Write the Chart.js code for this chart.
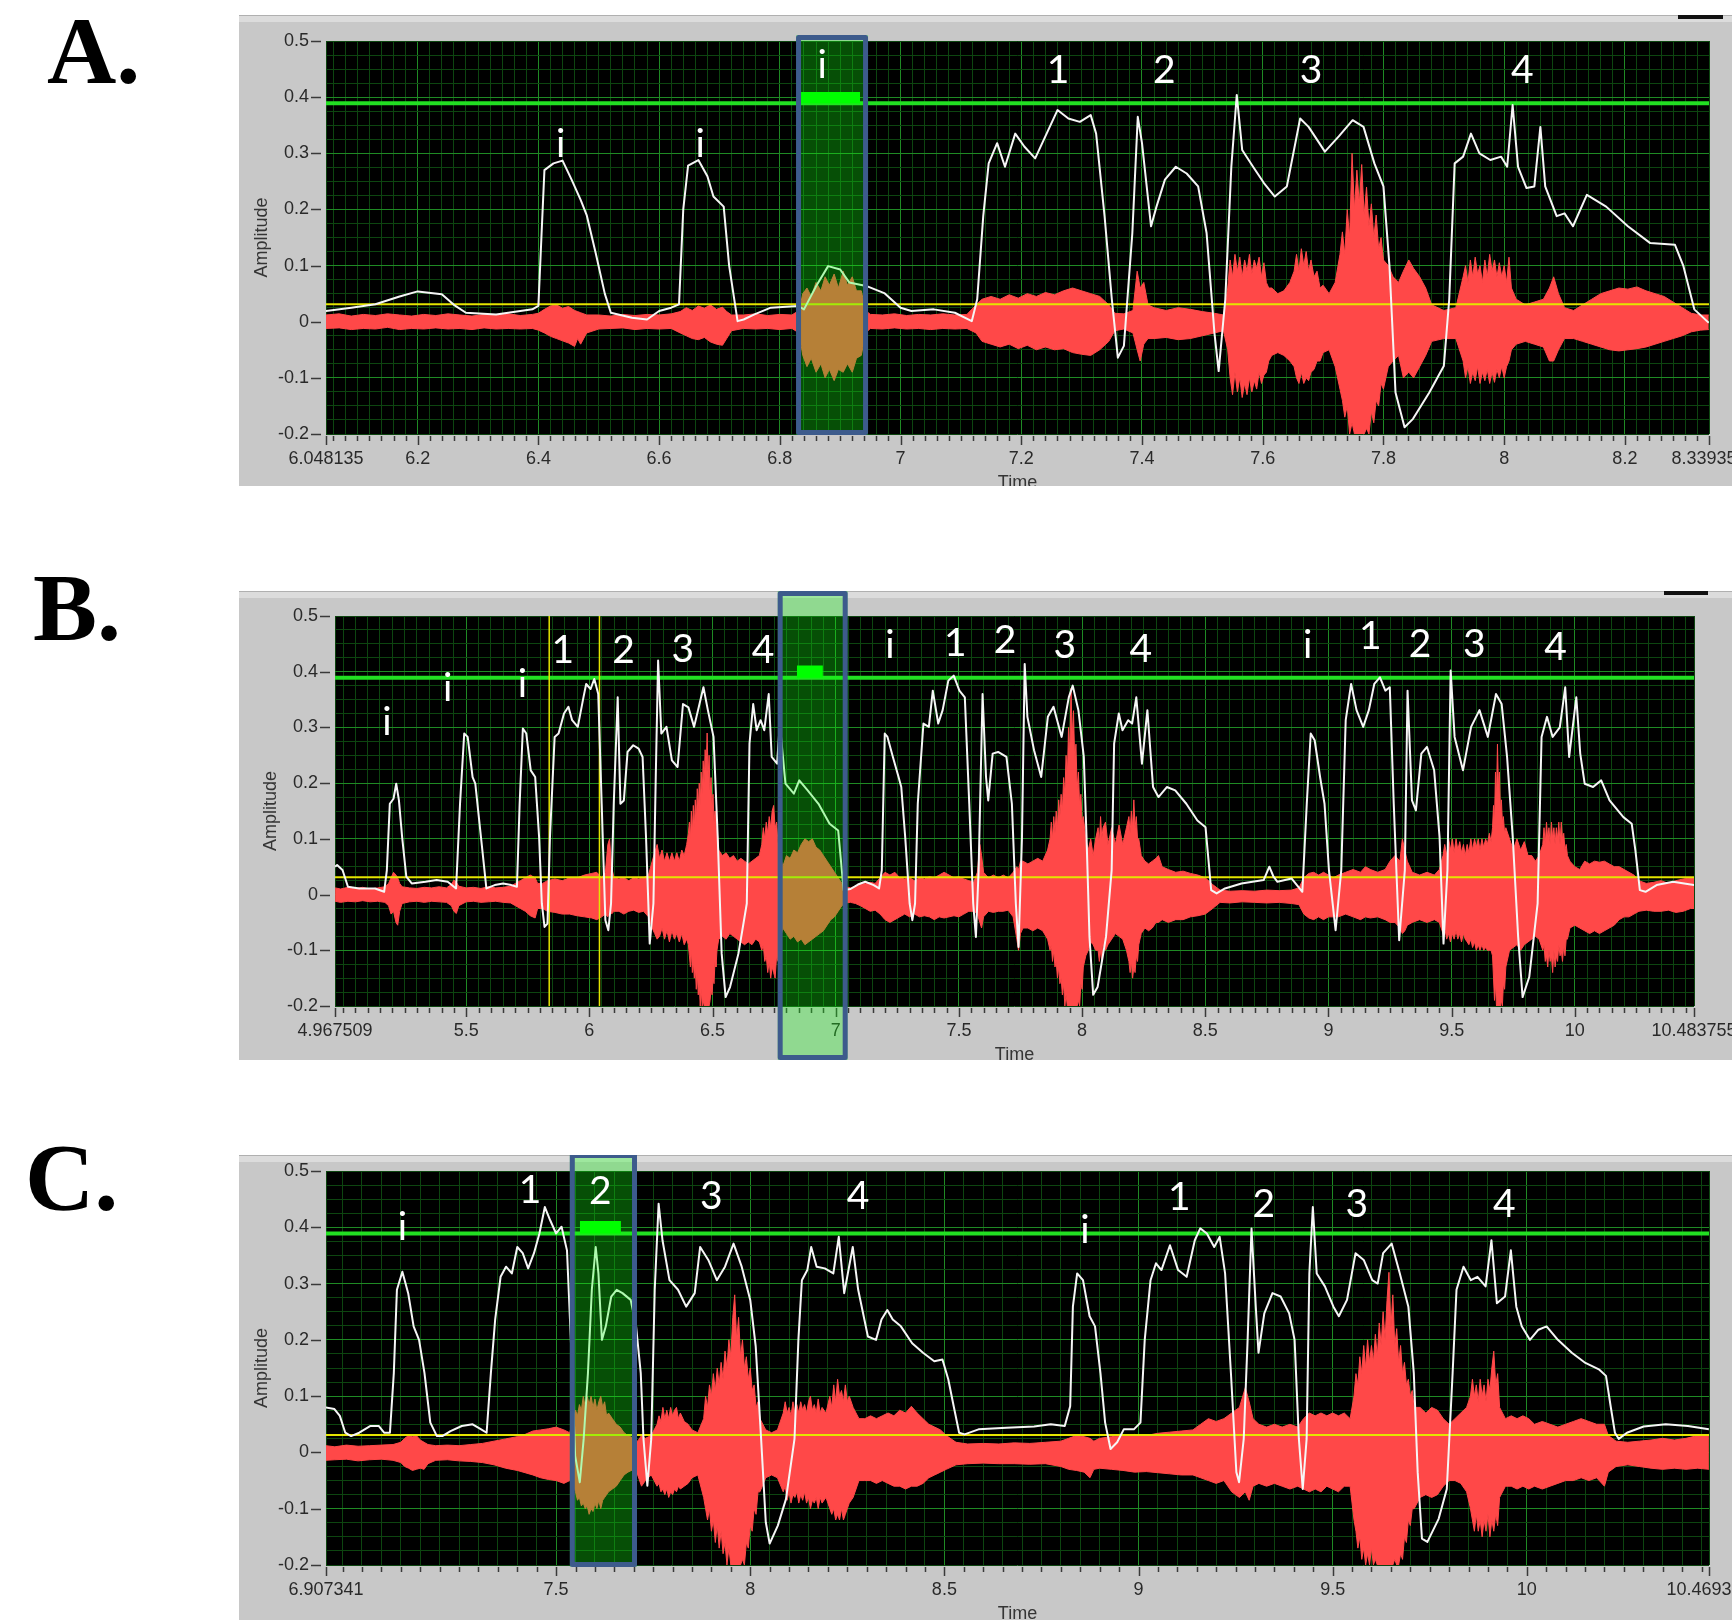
<!DOCTYPE html>
<html><head><meta charset="utf-8">
<script src="https://cdn.jsdelivr.net/npm/chart.js@4.4.1/dist/chart.umd.min.js"></script>
<style>
html,body{margin:0;padding:0;background:#fff;}
body{width:1732px;height:1620px;position:relative;overflow:hidden;}
.letter{position:absolute;font:bold 96px 'Liberation Serif','Times New Roman',serif;color:#000;line-height:96px;white-space:nowrap;}
.frame{position:absolute;background:#c8c8c8;overflow:hidden;}
.frame .strip{position:absolute;left:0;top:0;right:0;height:6px;background:#dcdcdc;border-top:1px solid #b0b0b0;}
.frame .knob{position:absolute;top:0;height:4px;background:#111;}
canvas{position:absolute;left:0;top:0;}
</style></head><body>
<div class="letter" style="left:47px;top:3px">A.</div>
<div class="letter" style="left:33px;top:560px">B.</div>
<div class="letter" style="left:25px;top:1130px">C.</div>
<div class="frame" style="left:239px;top:15px;width:1493px;height:471px"><div class="strip"></div><div class="knob" style="left:1439px;width:45px"></div><canvas id="ca" width="1493" height="471"></canvas></div>
<div class="frame" style="left:239px;top:591px;width:1493px;height:469px"><div class="strip"></div><div class="knob" style="left:1425px;width:44px"></div><canvas id="cb" width="1493" height="469"></canvas></div>
<div class="frame" style="left:239px;top:1155px;width:1493px;height:465px"><div class="strip"></div><canvas id="cc" width="1493" height="465"></canvas></div>
<script>
// ---------- shared ----------
const Y_TICKS = ['-0.2','-0.1','0','0.1','0.2','0.3','0.4','0.5'];
const THRESH_HIGH = 0.389;
const THRESH_LOW = 0.031;

// ---------- panel A ----------
const A_X_TICKS = ['6.048135','6.2','6.4','6.6','6.8','7','7.2','7.4','7.6','7.8','8','8.2','8.339353'];
const A_BOX = [6.831, 6.942];
const A_BUMP = [6.835, 6.933, 0.409];
const A_MARKS = [['i',6.437,0.294],['i',6.668,0.294],['i',6.870,0.434],['1',7.261,0.425],['2',7.437,0.425],['3',7.680,0.425],['4',8.030,0.425]];
const A_ENV = [[6.048,0.019],[6.09,0.025],[6.13,0.031],[6.17,0.045],[6.2,0.054],[6.24,0.049],[6.26,0.03],[6.28,0.016],[6.33,0.013],[6.37,0.019],[6.39,0.022],[6.4,0.028],[6.405,0.15],[6.41,0.27],[6.425,0.282],[6.44,0.287],[6.455,0.253],[6.47,0.217],[6.48,0.19],[6.495,0.122],[6.51,0.05],[6.52,0.016],[6.555,0.007],[6.58,0.004],[6.6,0.019],[6.62,0.025],[6.633,0.031],[6.64,0.2],[6.648,0.278],[6.665,0.288],[6.68,0.259],[6.69,0.223],[6.707,0.205],[6.716,0.1],[6.73,0.001],[6.74,0.004],[6.758,0.013],[6.785,0.025],[6.83,0.028],[6.84,0.022],[6.86,0.063],[6.88,0.099],[6.9,0.093],[6.915,0.07],[6.945,0.063],[6.973,0.051],[7.0,0.025],[7.018,0.019],[7.055,0.022],[7.09,0.016],[7.118,0.001],[7.127,0.04],[7.137,0.188],[7.146,0.282],[7.16,0.318],[7.173,0.276],[7.19,0.335],[7.205,0.312],[7.223,0.291],[7.242,0.335],[7.26,0.377],[7.278,0.362],[7.297,0.356],[7.315,0.368],[7.324,0.335],[7.338,0.188],[7.35,0.04],[7.36,-0.064],[7.37,-0.043],[7.384,0.158],[7.393,0.365],[7.4,0.318],[7.415,0.17],[7.424,0.205],[7.438,0.253],[7.456,0.276],[7.474,0.264],[7.493,0.241],[7.507,0.158],[7.52,-0.02],[7.527,-0.088],[7.538,0.04],[7.548,0.276],[7.557,0.404],[7.566,0.306],[7.584,0.276],[7.602,0.247],[7.62,0.223],[7.64,0.241],[7.662,0.362],[7.676,0.347],[7.703,0.303],[7.726,0.33],[7.749,0.359],[7.767,0.347],[7.785,0.282],[7.8,0.241],[7.81,0.099],[7.82,-0.126],[7.835,-0.188],[7.849,-0.173],[7.876,-0.126],[7.9,-0.079],[7.909,0.04],[7.918,0.282],[7.932,0.294],[7.945,0.335],[7.959,0.3],[7.977,0.288],[7.995,0.294],[8.005,0.276],[8.014,0.386],[8.023,0.276],[8.037,0.238],[8.05,0.241],[8.06,0.347],[8.068,0.241],[8.087,0.188],[8.1,0.193],[8.114,0.17],[8.137,0.226],[8.169,0.205],[8.205,0.17],[8.242,0.14],[8.283,0.137],[8.297,0.099],[8.315,0.022],[8.339,-0.002]];
const A_WAV = [[6.048,0.012,-0.012],[6.07,0.014,-0.011],[6.09,0.01,-0.014],[6.11,0.013,-0.012],[6.13,0.011,-0.013],[6.15,0.014,-0.01],[6.17,0.012,-0.014],[6.19,0.01,-0.012],[6.21,0.013,-0.013],[6.23,0.011,-0.011],[6.25,0.014,-0.013],[6.27,0.012,-0.012],[6.29,0.01,-0.014],[6.31,0.013,-0.011],[6.33,0.012,-0.013],[6.35,0.014,-0.012],[6.37,0.011,-0.013],[6.39,0.013,-0.012],
[6.40,0.015,-0.015],[6.41,0.022,-0.02],[6.42,0.028,-0.026],[6.43,0.03,-0.03],[6.44,0.024,-0.034],[6.45,0.027,-0.038],[6.46,0.02,-0.044],[6.465,0.018,-0.03],[6.47,0.016,-0.04],[6.48,0.012,-0.02],
[6.50,0.012,-0.013],[6.52,0.01,-0.012],[6.54,0.013,-0.011],[6.56,0.011,-0.014],[6.58,0.013,-0.012],[6.60,0.012,-0.013],[6.62,0.014,-0.012],
[6.635,0.018,-0.02],[6.645,0.025,-0.025],[6.655,0.02,-0.03],[6.665,0.028,-0.032],[6.675,0.024,-0.028],[6.685,0.03,-0.036],[6.695,0.022,-0.04],[6.705,0.026,-0.042],[6.712,0.018,-0.03],[6.72,0.012,-0.016],
[6.74,0.012,-0.012],[6.76,0.014,-0.013],[6.78,0.011,-0.012],[6.80,0.013,-0.014],[6.82,0.012,-0.012],
[6.832,0.02,-0.02],[6.838,0.05,-0.06],[6.845,0.06,-0.08],[6.852,0.045,-0.065],[6.86,0.07,-0.09],[6.868,0.055,-0.075],[6.875,0.08,-0.1],[6.882,0.065,-0.085],[6.89,0.085,-0.105],[6.897,0.06,-0.085],[6.905,0.09,-0.09],[6.912,0.065,-0.075],[6.92,0.08,-0.09],[6.927,0.055,-0.065],[6.935,0.055,-0.06],[6.942,0.02,-0.02],
[6.95,0.013,-0.012],[6.97,0.012,-0.013],[6.99,0.014,-0.011],[7.01,0.011,-0.013],[7.03,0.013,-0.012],[7.05,0.012,-0.014],[7.07,0.014,-0.012],[7.09,0.012,-0.013],[7.11,0.013,-0.012],
[7.125,0.03,-0.02],[7.135,0.04,-0.035],[7.15,0.045,-0.04],[7.165,0.04,-0.045],[7.18,0.048,-0.04],[7.195,0.042,-0.048],[7.21,0.05,-0.042],[7.225,0.045,-0.05],[7.24,0.052,-0.045],[7.255,0.048,-0.05],[7.27,0.055,-0.048],[7.285,0.06,-0.055],[7.3,0.055,-0.058],[7.315,0.05,-0.06],[7.33,0.045,-0.05],[7.345,0.03,-0.035],[7.355,0.015,-0.016],
[7.37,0.014,-0.013],[7.385,0.02,-0.02],[7.392,0.09,-0.05],[7.397,0.06,-0.07],[7.403,0.07,-0.04],[7.41,0.03,-0.03],[7.42,0.025,-0.03],[7.44,0.02,-0.028],[7.46,0.025,-0.032],[7.48,0.022,-0.03],[7.5,0.018,-0.025],[7.52,0.015,-0.02],[7.535,0.012,-0.016],
[7.542,0.06,-0.05],[7.546,0.11,-0.1],[7.55,0.08,-0.13],[7.554,0.12,-0.09],[7.558,0.09,-0.125],[7.562,0.115,-0.1],[7.566,0.08,-0.135],[7.57,0.11,-0.11],[7.574,0.09,-0.13],[7.578,0.12,-0.1],[7.582,0.085,-0.125],[7.586,0.11,-0.105],[7.59,0.095,-0.12],[7.594,0.115,-0.09],[7.598,0.08,-0.11],[7.602,0.105,-0.095],[7.606,0.07,-0.09],[7.61,0.06,-0.07],
[7.615,0.06,-0.06],[7.625,0.05,-0.055],[7.635,0.055,-0.06],[7.645,0.07,-0.07],
[7.652,0.09,-0.08],[7.656,0.12,-0.1],[7.66,0.09,-0.11],[7.664,0.13,-0.09],[7.668,0.1,-0.11],[7.672,0.125,-0.1],[7.676,0.09,-0.105],[7.68,0.11,-0.09],[7.685,0.08,-0.085],[7.69,0.09,-0.07],[7.695,0.06,-0.07],[7.7,0.065,-0.055],
[7.71,0.05,-0.05],[7.72,0.07,-0.08],
[7.728,0.12,-0.12],[7.732,0.16,-0.14],[7.736,0.12,-0.17],[7.74,0.2,-0.15],[7.744,0.15,-0.2],[7.748,0.3,-0.18],[7.752,0.2,-0.2],[7.756,0.27,-0.2],[7.76,0.21,-0.2],[7.764,0.28,-0.2],[7.768,0.19,-0.2],[7.772,0.24,-0.19],[7.776,0.17,-0.2],[7.78,0.21,-0.16],[7.784,0.15,-0.18],[7.788,0.19,-0.14],[7.792,0.13,-0.15],[7.796,0.15,-0.11],[7.8,0.11,-0.12],
[7.808,0.1,-0.08],[7.816,0.08,-0.07],[7.825,0.07,-0.06],[7.833,0.09,-0.1],[7.842,0.11,-0.09],[7.85,0.095,-0.1],[7.86,0.08,-0.08],[7.87,0.06,-0.06],[7.88,0.03,-0.035],[7.9,0.02,-0.03],[7.92,0.025,-0.03],
[7.932,0.08,-0.07],[7.936,0.1,-0.1],[7.94,0.07,-0.08],[7.944,0.11,-0.11],[7.948,0.08,-0.09],[7.952,0.115,-0.105],[7.956,0.085,-0.08],[7.96,0.1,-0.11],[7.964,0.07,-0.09],[7.968,0.11,-0.105],[7.972,0.08,-0.085],[7.976,0.12,-0.11],[7.98,0.09,-0.09],[7.984,0.11,-0.108],[7.988,0.08,-0.085],[7.992,0.105,-0.1],[7.996,0.08,-0.08],[8.0,0.1,-0.1],[8.004,0.07,-0.08],[8.008,0.115,-0.07],[8.012,0.06,-0.05],[8.02,0.04,-0.04],
[8.035,0.03,-0.035],[8.05,0.035,-0.04],[8.065,0.04,-0.045],[8.075,0.06,-0.07],[8.082,0.08,-0.07],[8.09,0.05,-0.05],[8.1,0.025,-0.03],[8.115,0.02,-0.03],[8.13,0.03,-0.035],
[8.145,0.04,-0.04],[8.16,0.05,-0.045],[8.175,0.055,-0.05],[8.19,0.06,-0.052],[8.205,0.058,-0.05],[8.22,0.062,-0.048],[8.235,0.055,-0.045],[8.25,0.05,-0.04],[8.265,0.045,-0.035],[8.28,0.035,-0.03],[8.295,0.025,-0.025],[8.31,0.015,-0.018],[8.325,0.012,-0.015],[8.339,0.012,-0.014]];

// ---------- panel B ----------
const B_X_TICKS = ['4.967509','5.5','6','6.5','7','7.5','8','8.5','9','9.5','10','10.483755'];
const B_BOX = [6.7745, 7.0384];
const B_BUMP = [6.842, 6.948, 0.411];
const B_CURSORS = [5.837, 6.041];
const B_MARKS = [['i',5.178,0.286],['i',5.425,0.348],['i',5.728,0.354],['1',5.892,0.416],['2',6.139,0.416],['3',6.379,0.418],['4',6.705,0.415],['i',7.220,0.424],['1',7.485,0.428],['2',7.687,0.433],['3',7.930,0.424],['4',8.238,0.418],['i',8.916,0.424],['1',9.170,0.440],['2',9.372,0.427],['3',9.592,0.426],['4',9.922,0.421]];
const B_ENV = [[4.968,0.05],[4.976,0.053],[4.998,0.044],[5.02,0.014],[5.066,0.011],[5.13,0.011],[5.167,0.005],[5.178,0.044],[5.19,0.163],[5.205,0.172],[5.216,0.199],[5.227,0.169],[5.24,0.103],[5.257,0.032],[5.279,0.02],[5.335,0.023],[5.38,0.026],[5.425,0.023],[5.459,0.011],[5.475,0.163],[5.492,0.289],[5.506,0.283],[5.526,0.211],[5.537,0.199],[5.56,0.103],[5.582,0.011],[5.616,0.017],[5.65,0.02],[5.683,0.017],[5.706,0.014],[5.717,0.163],[5.73,0.298],[5.744,0.289],[5.762,0.223],[5.78,0.211],[5.796,0.103],[5.807,-0.016],[5.818,-0.058],[5.83,-0.052],[5.84,0.103],[5.859,0.283],[5.875,0.289],[5.897,0.325],[5.915,0.337],[5.93,0.313],[5.953,0.301],[5.976,0.354],[5.987,0.378],[6.005,0.369],[6.02,0.387],[6.036,0.36],[6.05,0.163],[6.065,-0.046],[6.077,-0.064],[6.088,-0.016],[6.099,0.163],[6.115,0.354],[6.126,0.163],[6.14,0.169],[6.155,0.256],[6.178,0.268],[6.2,0.262],[6.216,0.247],[6.23,0.103],[6.245,-0.088],[6.26,-0.016],[6.27,0.223],[6.279,0.42],[6.292,0.289],[6.313,0.301],[6.335,0.241],[6.358,0.229],[6.38,0.342],[6.402,0.336],[6.425,0.301],[6.447,0.342],[6.463,0.372],[6.481,0.331],[6.504,0.283],[6.521,0.103],[6.537,-0.106],[6.553,-0.184],[6.571,-0.166],[6.605,-0.106],[6.639,-0.016],[6.65,0.271],[6.665,0.342],[6.679,0.295],[6.695,0.313],[6.71,0.295],[6.728,0.36],[6.74,0.247],[6.762,0.235],[6.773,0.307],[6.796,0.199],[6.83,0.181],[6.852,0.205],[6.886,0.187],[6.93,0.163],[6.975,0.127],[7.01,0.115],[7.032,0.008],[7.06,0.01],[7.09,0.018],[7.12,0.023],[7.154,0.017],[7.176,0.011],[7.187,0.044],[7.199,0.289],[7.21,0.283],[7.232,0.247],[7.255,0.211],[7.266,0.193],[7.282,0.103],[7.3,-0.016],[7.311,-0.046],[7.322,-0.016],[7.333,0.163],[7.356,0.307],[7.378,0.301],[7.394,0.366],[7.416,0.307],[7.434,0.331],[7.457,0.384],[7.479,0.393],[7.502,0.366],[7.524,0.354],[7.542,0.163],[7.558,-0.016],[7.569,-0.076],[7.58,0.044],[7.596,0.36],[7.61,0.211],[7.619,0.169],[7.637,0.253],[7.659,0.256],[7.693,0.247],[7.715,0.163],[7.731,-0.016],[7.742,-0.094],[7.756,0.103],[7.767,0.414],[7.778,0.319],[7.805,0.259],[7.834,0.211],[7.861,0.319],[7.884,0.337],[7.917,0.283],[7.946,0.354],[7.962,0.375],[7.985,0.331],[8.007,0.247],[8.018,0.103],[8.03,-0.076],[8.045,-0.18],[8.063,-0.166],[8.097,-0.076],[8.12,0.044],[8.13,0.271],[8.149,0.325],[8.164,0.295],[8.187,0.313],[8.203,0.307],[8.22,0.354],[8.243,0.235],[8.265,0.331],[8.288,0.193],[8.31,0.175],[8.344,0.193],[8.378,0.187],[8.423,0.163],[8.468,0.133],[8.501,0.121],[8.524,0.008],[8.546,0.002],[8.58,0.011],[8.647,0.02],[8.737,0.026],[8.76,0.05],[8.777,0.032],[8.793,0.023],[8.85,0.029],[8.894,0.005],[8.912,0.163],[8.928,0.289],[8.944,0.277],[8.966,0.211],[8.984,0.163],[9.002,0.044],[9.029,-0.064],[9.052,0.044],[9.07,0.313],[9.092,0.378],[9.114,0.331],[9.141,0.301],[9.164,0.331],[9.186,0.378],[9.209,0.39],[9.231,0.366],[9.249,0.372],[9.265,0.163],[9.287,-0.082],[9.31,0.044],[9.321,0.366],[9.339,0.169],[9.355,0.151],[9.377,0.253],[9.4,0.265],[9.429,0.223],[9.451,0.103],[9.467,-0.088],[9.483,0.044],[9.496,0.402],[9.512,0.283],[9.546,0.223],[9.579,0.301],[9.613,0.331],[9.647,0.283],[9.68,0.36],[9.703,0.342],[9.725,0.247],[9.748,0.103],[9.77,-0.076],[9.788,-0.184],[9.815,-0.148],[9.849,-0.016],[9.865,0.283],[9.887,0.319],[9.91,0.283],[9.939,0.3],[9.961,0.372],[9.977,0.247],[10.006,0.354],[10.022,0.253],[10.04,0.199],[10.074,0.193],[10.107,0.205],[10.141,0.169],[10.197,0.139],[10.231,0.127],[10.246,0.079],[10.264,0.008],[10.287,0.005],[10.332,0.017],[10.399,0.023],[10.444,0.02],[10.484,0.017]];
const B_WAV = [[4.968,0.012,-0.012],[4.99,0.01,-0.014],[5.02,0.013,-0.012],[5.05,0.011,-0.013],[5.08,0.013,-0.011],[5.11,0.01,-0.013],[5.14,0.012,-0.012],[5.17,0.014,-0.014],
[5.185,0.02,-0.02],[5.195,0.03,-0.035],[5.205,0.04,-0.03],[5.215,0.035,-0.05],[5.222,0.03,-0.055],[5.23,0.02,-0.03],[5.24,0.014,-0.016],
[5.27,0.012,-0.013],[5.3,0.011,-0.012],[5.33,0.013,-0.014],[5.36,0.012,-0.012],[5.39,0.014,-0.013],[5.42,0.012,-0.014],
[5.44,0.018,-0.02],[5.45,0.026,-0.03],[5.46,0.022,-0.034],[5.47,0.015,-0.02],
[5.5,0.012,-0.013],[5.53,0.013,-0.012],[5.56,0.011,-0.014],[5.59,0.014,-0.013],[5.62,0.012,-0.012],[5.65,0.013,-0.014],[5.68,0.015,-0.015],
[5.7,0.02,-0.02],[5.72,0.025,-0.025],[5.74,0.03,-0.03],[5.76,0.035,-0.038],[5.78,0.03,-0.042],[5.79,0.02,-0.025],
[5.81,0.02,-0.025],[5.83,0.025,-0.03],[5.86,0.028,-0.032],[5.89,0.025,-0.035],[5.92,0.03,-0.035],[5.95,0.03,-0.038],[5.98,0.035,-0.04],[6.01,0.038,-0.042],[6.03,0.04,-0.045],[6.05,0.03,-0.04],
[6.065,0.04,-0.035],[6.075,0.09,-0.04],[6.082,0.1,-0.03],[6.09,0.05,-0.035],
[6.1,0.03,-0.03],[6.12,0.028,-0.03],[6.14,0.03,-0.035],[6.16,0.025,-0.03],[6.18,0.03,-0.028],[6.2,0.028,-0.032],[6.22,0.03,-0.03],[6.24,0.035,-0.04],
[6.255,0.06,-0.06],[6.265,0.075,-0.07],[6.275,0.09,-0.08],[6.285,0.065,-0.075],[6.295,0.08,-0.06],[6.305,0.06,-0.08],[6.315,0.075,-0.065],[6.325,0.06,-0.085],[6.335,0.075,-0.065],[6.345,0.06,-0.08],[6.355,0.075,-0.07],[6.365,0.06,-0.085],[6.375,0.08,-0.07],[6.385,0.07,-0.09],[6.395,0.09,-0.08],
[6.402,0.11,-0.09],[6.406,0.13,-0.11],[6.41,0.1,-0.13],[6.414,0.15,-0.1],[6.418,0.11,-0.14],[6.422,0.16,-0.12],[6.426,0.12,-0.15],[6.43,0.17,-0.13],[6.434,0.13,-0.17],[6.438,0.19,-0.14],[6.442,0.15,-0.18],[6.446,0.2,-0.16],[6.45,0.16,-0.2],[6.454,0.22,-0.17],[6.458,0.18,-0.2],[6.462,0.24,-0.19],[6.466,0.2,-0.2],[6.47,0.26,-0.2],[6.474,0.22,-0.2],[6.478,0.29,-0.2],[6.482,0.21,-0.2],[6.486,0.25,-0.2],[6.49,0.18,-0.19],[6.494,0.21,-0.17],[6.498,0.16,-0.18],[6.502,0.18,-0.15],[6.506,0.13,-0.16],[6.51,0.15,-0.12],[6.514,0.11,-0.13],[6.518,0.12,-0.1],
[6.525,0.08,-0.08],[6.54,0.07,-0.075],[6.555,0.075,-0.08],[6.57,0.065,-0.07],[6.585,0.07,-0.075],[6.6,0.06,-0.08],[6.615,0.065,-0.085],[6.63,0.06,-0.09],[6.645,0.055,-0.085],[6.66,0.06,-0.09],[6.675,0.065,-0.08],[6.69,0.07,-0.085],
[6.7,0.09,-0.1],[6.706,0.12,-0.09],[6.712,0.1,-0.12],[6.718,0.13,-0.11],[6.724,0.11,-0.14],[6.73,0.14,-0.12],[6.736,0.12,-0.15],[6.742,0.15,-0.13],[6.748,0.16,-0.14],[6.754,0.12,-0.15],[6.76,0.13,-0.11],[6.766,0.09,-0.12],[6.775,0.07,-0.08],
[6.785,0.05,-0.06],[6.8,0.07,-0.07],[6.815,0.065,-0.08],[6.83,0.08,-0.075],[6.845,0.075,-0.085],[6.86,0.09,-0.08],[6.875,0.1,-0.09],[6.89,0.095,-0.085],[6.905,0.1,-0.08],[6.92,0.085,-0.075],[6.935,0.08,-0.07],[6.95,0.07,-0.065],[6.965,0.06,-0.055],[6.98,0.05,-0.045],[6.995,0.04,-0.04],[7.01,0.03,-0.03],[7.025,0.02,-0.02],[7.04,0.014,-0.015],
[7.06,0.012,-0.014],[7.08,0.015,-0.016],[7.1,0.018,-0.02],[7.12,0.02,-0.025],[7.14,0.022,-0.03],[7.16,0.02,-0.028],[7.18,0.03,-0.035],[7.2,0.04,-0.045],[7.22,0.035,-0.05],[7.24,0.04,-0.045],[7.26,0.03,-0.04],[7.28,0.028,-0.035],[7.3,0.03,-0.04],[7.32,0.025,-0.035],[7.34,0.03,-0.04],[7.36,0.028,-0.038],[7.38,0.032,-0.04],[7.4,0.03,-0.045],[7.42,0.035,-0.04],[7.44,0.04,-0.042],[7.46,0.035,-0.04],[7.48,0.03,-0.038],[7.5,0.032,-0.04],[7.52,0.028,-0.035],[7.54,0.025,-0.03],[7.56,0.022,-0.03],
[7.575,0.04,-0.035],[7.585,0.09,-0.05],[7.592,0.07,-0.06],[7.6,0.04,-0.04],
[7.62,0.03,-0.03],[7.64,0.035,-0.032],[7.66,0.03,-0.03],[7.68,0.035,-0.03],[7.7,0.03,-0.028],[7.72,0.04,-0.04],
[7.735,0.05,-0.08],[7.742,0.045,-0.1],[7.75,0.06,-0.07],[7.76,0.06,-0.06],[7.78,0.055,-0.06],[7.8,0.06,-0.065],[7.82,0.065,-0.06],[7.84,0.06,-0.065],[7.86,0.08,-0.08],
[7.87,0.1,-0.1],[7.875,0.13,-0.09],[7.88,0.1,-0.12],[7.885,0.14,-0.1],[7.89,0.11,-0.13],[7.895,0.15,-0.12],[7.9,0.12,-0.15],[7.905,0.17,-0.13],[7.91,0.14,-0.16],[7.915,0.18,-0.15],[7.92,0.15,-0.18],[7.925,0.21,-0.16],[7.93,0.18,-0.2],[7.935,0.25,-0.18],[7.94,0.21,-0.2],[7.945,0.3,-0.2],[7.95,0.25,-0.2],[7.955,0.37,-0.2],[7.96,0.28,-0.2],[7.965,0.33,-0.2],[7.97,0.24,-0.2],[7.975,0.27,-0.2],[7.98,0.19,-0.2],[7.985,0.22,-0.19],[7.99,0.16,-0.2],[7.995,0.18,-0.16],[8.0,0.13,-0.17],[8.005,0.14,-0.13],
[8.015,0.1,-0.11],[8.025,0.08,-0.1],[8.035,0.1,-0.085],[8.045,0.07,-0.09],[8.055,0.1,-0.1],
[8.065,0.12,-0.1],[8.07,0.09,-0.12],[8.075,0.14,-0.1],[8.08,0.1,-0.12],[8.085,0.12,-0.09],[8.095,0.13,-0.1],[8.105,0.09,-0.09],
[8.12,0.12,-0.08],[8.135,0.09,-0.07],[8.15,0.125,-0.075],[8.165,0.09,-0.08],[8.18,0.12,-0.1],
[8.19,0.14,-0.12],[8.195,0.11,-0.14],[8.2,0.15,-0.12],[8.205,0.12,-0.15],[8.21,0.17,-0.13],[8.215,0.12,-0.14],[8.22,0.14,-0.11],[8.225,0.1,-0.12],[8.23,0.1,-0.09],[8.24,0.07,-0.07],
[8.255,0.06,-0.06],[8.27,0.055,-0.065],[8.285,0.06,-0.06],[8.3,0.065,-0.05],[8.31,0.07,-0.05],[8.325,0.05,-0.045],
[8.35,0.045,-0.05],[8.38,0.04,-0.045],[8.41,0.042,-0.045],[8.44,0.038,-0.04],[8.47,0.035,-0.038],[8.5,0.03,-0.035],[8.53,0.018,-0.025],
[8.56,0.008,-0.014],[8.6,0.006,-0.015],[8.65,0.007,-0.013],[8.7,0.006,-0.014],[8.75,0.008,-0.015],[8.8,0.007,-0.014],[8.85,0.008,-0.016],[8.88,0.012,-0.018],
[8.9,0.03,-0.035],[8.92,0.038,-0.042],[8.94,0.04,-0.045],[8.96,0.035,-0.04],[8.98,0.04,-0.045],[9.0,0.035,-0.04],[9.02,0.03,-0.04],
[9.04,0.035,-0.04],[9.07,0.04,-0.035],[9.1,0.045,-0.04],[9.13,0.04,-0.045],[9.15,0.05,-0.04],[9.17,0.045,-0.042],[9.2,0.04,-0.04],[9.23,0.045,-0.045],
[9.25,0.06,-0.05],[9.27,0.07,-0.05],[9.29,0.06,-0.06],[9.3,0.1,-0.07],[9.31,0.08,-0.065],[9.32,0.06,-0.055],[9.34,0.04,-0.05],[9.37,0.035,-0.045],[9.4,0.04,-0.05],[9.43,0.035,-0.045],[9.45,0.045,-0.05],
[9.465,0.07,-0.07],[9.472,0.09,-0.06],[9.48,0.07,-0.08],[9.488,0.1,-0.07],[9.495,0.08,-0.085],[9.503,0.1,-0.07],[9.51,0.075,-0.08],[9.518,0.1,-0.065],[9.525,0.08,-0.08],[9.533,0.095,-0.07],[9.54,0.075,-0.085],[9.548,0.09,-0.07],[9.555,0.07,-0.08],[9.563,0.09,-0.085],[9.57,0.075,-0.09],[9.578,0.1,-0.08],[9.585,0.08,-0.095],[9.593,0.1,-0.085],[9.6,0.085,-0.1],[9.608,0.1,-0.09],[9.615,0.08,-0.1],[9.623,0.1,-0.09],[9.63,0.085,-0.1],[9.638,0.1,-0.095],[9.645,0.09,-0.1],[9.653,0.11,-0.1],[9.66,0.095,-0.1],
[9.666,0.12,-0.11],[9.67,0.16,-0.15],[9.674,0.13,-0.19],[9.678,0.22,-0.16],[9.682,0.17,-0.2],[9.686,0.27,-0.2],[9.69,0.19,-0.2],[9.694,0.22,-0.2],[9.698,0.15,-0.2],[9.702,0.17,-0.19],[9.706,0.13,-0.2],[9.71,0.14,-0.16],[9.715,0.11,-0.17],[9.72,0.12,-0.13],
[9.735,0.1,-0.1],[9.75,0.08,-0.095],[9.765,0.1,-0.09],[9.78,0.08,-0.1],[9.795,0.095,-0.09],[9.81,0.07,-0.085],
[9.825,0.07,-0.08],[9.84,0.06,-0.075],[9.855,0.07,-0.08],
[9.87,0.09,-0.1],[9.875,0.12,-0.09],[9.88,0.09,-0.12],[9.885,0.13,-0.11],[9.89,0.1,-0.13],[9.895,0.12,-0.1],[9.9,0.09,-0.12],[9.905,0.13,-0.11],[9.91,0.1,-0.14],[9.915,0.12,-0.1],[9.92,0.09,-0.13],[9.925,0.12,-0.11],[9.93,0.1,-0.12],[9.935,0.13,-0.09],[9.94,0.09,-0.11],[9.945,0.13,-0.1],[9.95,0.1,-0.12],[9.955,0.11,-0.09],[9.96,0.08,-0.11],[9.965,0.09,-0.08],[9.97,0.07,-0.08],[9.98,0.06,-0.06],
[10.0,0.05,-0.055],[10.02,0.045,-0.06],[10.04,0.06,-0.065],[10.06,0.055,-0.07],[10.08,0.06,-0.065],[10.1,0.058,-0.07],[10.12,0.06,-0.065],[10.14,0.055,-0.06],[10.16,0.05,-0.055],[10.18,0.05,-0.045],[10.2,0.045,-0.04],[10.22,0.04,-0.04],[10.24,0.035,-0.035],[10.26,0.025,-0.03],
[10.29,0.02,-0.028],[10.32,0.022,-0.03],[10.35,0.025,-0.03],[10.38,0.02,-0.028],[10.41,0.025,-0.032],[10.44,0.028,-0.03],[10.47,0.03,-0.025],[10.484,0.03,-0.025]];

// ---------- panel C ----------
const C_X_TICKS = ['6.907341','7.5','8','8.5','9','9.5','10','10.469315'];
const C_BOX = [7.5417, 7.7019];
const C_BUMP = [7.561, 7.667, 0.411];
const C_MARKS = [['i',7.104,0.377],['1',7.433,0.443],['2',7.614,0.441],['3',7.900,0.432],['4',8.278,0.432],['i',8.862,0.372],['1',9.105,0.431],['2',9.323,0.418],['3',9.562,0.418],['4',9.942,0.418]];
const C_ENV = [[6.907,0.08],[6.929,0.077],[6.943,0.065],[6.957,0.035],[6.972,0.029],[6.993,0.035],[7.022,0.047],[7.043,0.047],[7.057,0.035],[7.072,0.035],[7.082,0.141],[7.09,0.289],[7.104,0.321],[7.119,0.283],[7.133,0.224],[7.147,0.2],[7.161,0.141],[7.176,0.053],[7.193,0.029],[7.207,0.029],[7.228,0.038],[7.257,0.047],[7.285,0.05],[7.307,0.041],[7.321,0.035],[7.332,0.141],[7.343,0.236],[7.357,0.312],[7.371,0.33],[7.386,0.318],[7.4,0.365],[7.414,0.354],[7.428,0.327],[7.443,0.354],[7.457,0.389],[7.471,0.436],[7.485,0.412],[7.5,0.389],[7.514,0.401],[7.528,0.359],[7.538,0.2],[7.549,-0.006],[7.561,-0.053],[7.571,0.024],[7.582,0.141],[7.592,0.289],[7.602,0.365],[7.609,0.318],[7.618,0.2],[7.628,0.224],[7.642,0.277],[7.656,0.289],[7.671,0.283],[7.692,0.271],[7.706,0.224],[7.718,0.141],[7.725,0.024],[7.735,-0.059],[7.745,0.024],[7.754,0.289],[7.764,0.442],[7.774,0.377],[7.792,0.306],[7.814,0.289],[7.835,0.259],[7.857,0.283],[7.871,0.365],[7.892,0.342],[7.914,0.306],[7.935,0.33],[7.957,0.371],[7.978,0.33],[8.0,0.271],[8.014,0.189],[8.028,0.024],[8.04,-0.124],[8.05,-0.162],[8.071,-0.13],[8.092,-0.083],[8.114,0.024],[8.124,0.2],[8.133,0.306],[8.147,0.324],[8.157,0.365],[8.171,0.33],[8.192,0.327],[8.214,0.318],[8.228,0.383],[8.242,0.283],[8.264,0.365],[8.278,0.289],[8.303,0.206],[8.324,0.2],[8.338,0.236],[8.353,0.253],[8.367,0.236],[8.388,0.224],[8.417,0.194],[8.445,0.177],[8.474,0.162],[8.495,0.165],[8.51,0.13],[8.524,0.082],[8.538,0.035],[8.552,0.032],[8.588,0.041],[8.66,0.044],[8.731,0.046],[8.774,0.05],[8.81,0.047],[8.824,0.082],[8.831,0.259],[8.842,0.318],[8.857,0.306],[8.874,0.242],[8.888,0.224],[8.902,0.141],[8.914,0.053],[8.928,0.006],[8.945,0.018],[8.962,0.041],[8.988,0.041],[9.005,0.053],[9.016,0.2],[9.031,0.306],[9.045,0.336],[9.059,0.324],[9.081,0.368],[9.102,0.324],[9.124,0.312],[9.145,0.377],[9.159,0.398],[9.176,0.389],[9.195,0.365],[9.209,0.383],[9.223,0.318],[9.238,0.141],[9.252,-0.035],[9.259,-0.053],[9.271,0.024],[9.281,0.2],[9.291,0.398],[9.302,0.259],[9.309,0.177],[9.324,0.247],[9.345,0.283],[9.366,0.277],[9.388,0.247],[9.402,0.2],[9.413,0.024],[9.423,-0.065],[9.433,0.024],[9.44,0.318],[9.449,0.436],[9.459,0.318],[9.48,0.295],[9.502,0.259],[9.516,0.242],[9.537,0.271],[9.559,0.354],[9.58,0.342],[9.602,0.306],[9.616,0.3],[9.63,0.354],[9.652,0.371],[9.673,0.318],[9.695,0.259],[9.709,0.141],[9.719,-0.035],[9.73,-0.153],[9.744,-0.159],[9.773,-0.118],[9.794,-0.065],[9.809,0.141],[9.819,0.289],[9.837,0.33],[9.856,0.306],[9.873,0.312],[9.894,0.295],[9.909,0.377],[9.923,0.265],[9.944,0.277],[9.959,0.359],[9.973,0.259],[9.987,0.224],[10.008,0.2],[10.03,0.218],[10.051,0.224],[10.08,0.2],[10.116,0.177],[10.151,0.159],[10.187,0.147],[10.204,0.136],[10.216,0.082],[10.227,0.035],[10.237,0.024],[10.258,0.035],[10.301,0.046],[10.358,0.05],[10.415,0.047],[10.469,0.041]];
const C_WAV = [[6.907,0.012,-0.014],[6.93,0.01,-0.013],[6.96,0.013,-0.012],[6.99,0.011,-0.015],[7.02,0.012,-0.013],[7.05,0.013,-0.012],[7.08,0.014,-0.014],
[7.1,0.018,-0.018],[7.11,0.025,-0.025],[7.12,0.03,-0.028],[7.13,0.028,-0.032],[7.14,0.03,-0.03],[7.15,0.022,-0.028],[7.16,0.018,-0.03],[7.17,0.014,-0.02],
[7.19,0.012,-0.014],[7.22,0.013,-0.013],[7.25,0.012,-0.015],[7.28,0.014,-0.016],[7.31,0.016,-0.018],[7.34,0.02,-0.022],[7.37,0.024,-0.028],[7.4,0.028,-0.032],[7.42,0.032,-0.036],[7.44,0.038,-0.04],[7.46,0.04,-0.045],[7.48,0.042,-0.048],[7.5,0.045,-0.05],[7.52,0.04,-0.055],[7.535,0.035,-0.05],
[7.545,0.06,-0.06],[7.55,0.075,-0.07],[7.555,0.065,-0.085],[7.56,0.085,-0.08],[7.565,0.075,-0.095],[7.57,0.1,-0.09],[7.575,0.08,-0.1],[7.58,0.1,-0.095],[7.585,0.085,-0.11],[7.59,0.1,-0.1],[7.595,0.08,-0.105],[7.6,0.095,-0.09],[7.605,0.075,-0.1],[7.61,0.09,-0.085],[7.615,0.1,-0.1],[7.62,0.08,-0.085],[7.625,0.09,-0.08],[7.63,0.065,-0.075],[7.635,0.07,-0.07],[7.645,0.06,-0.065],[7.655,0.05,-0.06],[7.665,0.045,-0.05],[7.675,0.035,-0.04],[7.685,0.03,-0.035],[7.7,0.025,-0.03],
[7.71,0.02,-0.04],[7.72,0.03,-0.06],[7.73,0.025,-0.05],[7.745,0.03,-0.04],
[7.76,0.05,-0.06],[7.765,0.065,-0.055],[7.77,0.055,-0.07],[7.775,0.08,-0.065],[7.78,0.06,-0.075],[7.785,0.075,-0.065],[7.79,0.06,-0.08],[7.795,0.08,-0.07],[7.8,0.065,-0.075],[7.805,0.075,-0.065],[7.81,0.08,-0.07],[7.815,0.06,-0.06],[7.82,0.07,-0.065],[7.83,0.055,-0.06],[7.84,0.05,-0.055],[7.85,0.04,-0.045],[7.865,0.035,-0.04],
[7.88,0.06,-0.08],[7.885,0.1,-0.1],[7.89,0.08,-0.12],[7.895,0.12,-0.1],[7.9,0.1,-0.14],[7.905,0.14,-0.12],[7.91,0.11,-0.16],[7.915,0.15,-0.13],[7.92,0.12,-0.17],[7.925,0.16,-0.14],[7.93,0.13,-0.18],[7.935,0.18,-0.16],[7.94,0.15,-0.2],[7.945,0.2,-0.17],[7.95,0.17,-0.2],[7.955,0.24,-0.2],[7.96,0.28,-0.2],[7.965,0.2,-0.2],[7.97,0.24,-0.2],[7.975,0.17,-0.2],[7.98,0.2,-0.19],[7.985,0.15,-0.2],[7.99,0.17,-0.16],[7.995,0.13,-0.17],[8.0,0.15,-0.13],[8.005,0.11,-0.14],[8.01,0.12,-0.1],[8.015,0.08,-0.11],[8.02,0.09,-0.07],[8.025,0.06,-0.07],
[8.04,0.04,-0.045],[8.055,0.035,-0.04],[8.07,0.04,-0.045],
[8.085,0.07,-0.07],[8.09,0.09,-0.06],[8.095,0.07,-0.085],[8.1,0.08,-0.07],[8.105,0.065,-0.09],[8.11,0.09,-0.075],[8.115,0.07,-0.08],[8.12,0.085,-0.07],[8.125,0.07,-0.09],[8.13,0.09,-0.075],[8.135,0.075,-0.085],[8.14,0.085,-0.07],[8.145,0.07,-0.09],[8.15,0.09,-0.08],[8.155,0.1,-0.1],[8.16,0.075,-0.085],[8.165,0.085,-0.09],[8.17,0.07,-0.08],[8.175,0.095,-0.1],[8.18,0.07,-0.08],[8.185,0.08,-0.09],[8.195,0.07,-0.08],
[8.205,0.1,-0.1],[8.21,0.08,-0.11],[8.215,0.12,-0.1],[8.22,0.09,-0.12],[8.225,0.13,-0.11],[8.23,0.1,-0.12],[8.235,0.11,-0.1],[8.24,0.09,-0.12],[8.245,0.12,-0.11],[8.25,0.09,-0.1],[8.255,0.1,-0.09],[8.265,0.08,-0.08],[8.28,0.06,-0.05],[8.295,0.06,-0.05],
[8.31,0.065,-0.05],[8.325,0.06,-0.055],[8.34,0.065,-0.05],[8.355,0.07,-0.055],[8.37,0.065,-0.06],[8.385,0.075,-0.06],[8.4,0.07,-0.065],[8.415,0.082,-0.06],[8.43,0.07,-0.06],[8.445,0.06,-0.055],[8.46,0.05,-0.045],[8.475,0.045,-0.04],[8.49,0.04,-0.035],[8.505,0.03,-0.03],
[8.53,0.018,-0.022],[8.56,0.015,-0.02],[8.6,0.016,-0.019],[8.64,0.015,-0.02],[8.68,0.017,-0.02],[8.72,0.016,-0.021],[8.76,0.018,-0.02],[8.8,0.02,-0.025],
[8.82,0.025,-0.03],[8.84,0.03,-0.032],[8.86,0.028,-0.035],[8.875,0.025,-0.045],[8.885,0.02,-0.03],[8.9,0.025,-0.028],
[8.93,0.028,-0.03],[8.96,0.03,-0.032],[8.99,0.032,-0.035],[9.02,0.03,-0.034],[9.05,0.034,-0.036],[9.08,0.036,-0.038],[9.11,0.038,-0.04],[9.14,0.04,-0.04],
[9.16,0.05,-0.045],[9.18,0.06,-0.05],[9.2,0.055,-0.055],[9.22,0.06,-0.05],[9.24,0.07,-0.07],[9.26,0.08,-0.08],[9.275,0.115,-0.07],[9.285,0.09,-0.085],[9.295,0.06,-0.06],
[9.31,0.05,-0.055],[9.33,0.045,-0.06],[9.35,0.05,-0.055],[9.37,0.045,-0.06],[9.39,0.05,-0.065],[9.41,0.045,-0.06],
[9.425,0.06,-0.065],[9.44,0.07,-0.07],[9.455,0.065,-0.065],[9.47,0.07,-0.07],[9.485,0.065,-0.06],[9.5,0.07,-0.065],[9.515,0.065,-0.07],[9.53,0.07,-0.06],[9.545,0.06,-0.06],
[9.555,0.1,-0.12],[9.56,0.14,-0.14],[9.565,0.12,-0.17],[9.57,0.17,-0.15],[9.575,0.14,-0.19],[9.58,0.19,-0.17],[9.585,0.15,-0.2],[9.59,0.2,-0.18],[9.595,0.16,-0.2],[9.6,0.19,-0.17],[9.605,0.16,-0.2],[9.61,0.21,-0.19],[9.615,0.17,-0.2],[9.62,0.23,-0.2],[9.625,0.19,-0.2],[9.63,0.25,-0.2],[9.635,0.2,-0.2],[9.64,0.27,-0.2],[9.645,0.32,-0.2],[9.65,0.22,-0.2],[9.655,0.28,-0.2],[9.66,0.19,-0.19],[9.665,0.22,-0.2],[9.67,0.16,-0.2],[9.675,0.19,-0.18],[9.68,0.14,-0.19],[9.685,0.16,-0.15],[9.69,0.12,-0.16],[9.695,0.13,-0.12],[9.7,0.1,-0.13],[9.705,0.11,-0.1],[9.71,0.08,-0.1],
[9.725,0.08,-0.08],[9.74,0.07,-0.075],[9.755,0.08,-0.08],[9.77,0.075,-0.075],[9.785,0.06,-0.06],
[9.8,0.05,-0.05],[9.815,0.06,-0.05],[9.83,0.07,-0.055],[9.845,0.08,-0.07],
[9.855,0.1,-0.1],[9.86,0.13,-0.12],[9.865,0.1,-0.14],[9.87,0.12,-0.11],[9.875,0.09,-0.14],[9.88,0.13,-0.12],[9.885,0.1,-0.15],[9.89,0.12,-0.12],[9.895,0.09,-0.14],[9.9,0.13,-0.11],[9.905,0.11,-0.15],[9.91,0.15,-0.12],[9.915,0.18,-0.14],[9.92,0.12,-0.11],[9.925,0.14,-0.13],[9.93,0.08,-0.08],
[9.945,0.06,-0.06],[9.96,0.065,-0.06],[9.975,0.06,-0.065],[9.99,0.065,-0.06],[10.005,0.06,-0.065],[10.02,0.05,-0.06],[10.04,0.055,-0.065],[10.06,0.05,-0.06],[10.08,0.045,-0.055],[10.1,0.05,-0.05],[10.12,0.055,-0.05],[10.14,0.06,-0.045],[10.16,0.055,-0.05],[10.18,0.05,-0.045],[10.2,0.05,-0.06],[10.21,0.03,-0.035],
[10.23,0.02,-0.025],[10.26,0.018,-0.022],[10.29,0.02,-0.025],[10.32,0.022,-0.028],[10.35,0.025,-0.03],[10.38,0.022,-0.028],[10.41,0.025,-0.03],[10.44,0.03,-0.028],[10.469,0.032,-0.03]];

// ---------- styling ----------
const COL = {
  plotBg:'#000000', gridMinor:'#0d4510', gridMajor:'#1f8a24', tick:'#3a3a3a', text:'#2a2a2a',
  red:'#ff4848', white:'#f6f6f6', yellow:'#e4e400', green:'#22e022', bump:'#00ff00',
  boxFill:'rgba(20,255,20,0.31)', boxEdge:'#3d5b8c'
};
const TICK_FONT = {family:"'Liberation Sans', Arial, sans-serif", size:18};

function makeTicks(min, max, step, majors){
  const out = [{value:min, major:false, end:true}];
  for (let k = Math.ceil(min/step - 1e-9); ; k++){
    const v = +(k*step).toFixed(6);
    if (v >= max - 1e-9) break;
    if (v <= min + 1e-9) continue;
    out.push({value:v, major:majors.some(m => Math.abs(m - v) < 1e-6), end:false});
  }
  out.push({value:max, major:false, end:true});
  return out;
}

const panelPlugin = {
  id:'panelPlugin',
  beforeDraw(chart){
    const {ctx, chartArea:a} = chart;
    ctx.save(); ctx.fillStyle = COL.plotBg;
    ctx.fillRect(a.left, a.top, a.right - a.left, a.bottom - a.top);
    ctx.restore();
  },
  beforeDatasetsDraw(chart){
    const {ctx, chartArea:a} = chart; const xs = chart.scales.x, ys = chart.scales.y;
    ctx.save(); ctx.strokeStyle = COL.tick; ctx.lineWidth = 1.5; ctx.beginPath();
    xs.ticks.forEach(t => {
      const px = Math.round(xs.getPixelForValue(t.value)) + 0.5;
      const big = t.major || t.end;
      ctx.moveTo(px, a.bottom + 2); ctx.lineTo(px, a.bottom + (big ? 11 : 7));
    });
    ys.ticks.forEach(t => {
      if (!(t.major || t.end)) return;
      const py = Math.round(ys.getPixelForValue(t.value)) + 0.5;
      ctx.moveTo(a.left - 15, py); ctx.lineTo(a.left - 5, py);
    });
    ctx.stroke();
    ctx.fillStyle = '#353535'; ctx.font = "18px 'Liberation Sans', Arial, sans-serif";
    ctx.textAlign = 'center'; ctx.textBaseline = 'alphabetic';
    ctx.fillText('Time', (a.left + a.right)/2, a.bottom + 54);
    ctx.translate(a.left - 64, (a.top + a.bottom)/2); ctx.rotate(-Math.PI/2);
    ctx.textBaseline = 'middle'; ctx.fillText('Amplitude', 0, 0);
    ctx.restore();
  },
  afterDatasetDraw(chart, args){
    const ds = chart.data.datasets[args.index];
    if (ds.label !== 'env') return;
    const o = chart.options.plugins.panelPlugin; const xs = chart.scales.x; const ctx = chart.ctx;
    const x0 = xs.getPixelForValue(o.box[0]) - 2.5, x1 = xs.getPixelForValue(o.box[1]) + 2.5;
    ctx.save(); ctx.fillStyle = COL.boxFill;
    ctx.fillRect(x0, o.boxTop, x1 - x0, o.boxBottom - o.boxTop);
    ctx.restore();
  },
  afterDatasetsDraw(chart){
    const o = chart.options.plugins.panelPlugin; const xs = chart.scales.x, ys = chart.scales.y; const ctx = chart.ctx;
    const x0 = xs.getPixelForValue(o.box[0]), x1 = xs.getPixelForValue(o.box[1]);
    ctx.save();
    ctx.strokeStyle = COL.boxEdge; ctx.lineWidth = 5; ctx.lineJoin = 'round';
    ctx.strokeRect(x0, o.boxTop + 2.5, x1 - x0, o.boxBottom - o.boxTop - 5);
    ctx.fillStyle = '#ffffff'; ctx.font = "39px Lato, 'Open Sans', sans-serif";
    ctx.textAlign = 'center'; ctx.textBaseline = 'alphabetic';
    o.marks.forEach(m => ctx.fillText(m[0], xs.getPixelForValue(m[1]), ys.getPixelForValue(m[2])));
    ctx.restore();
  }
};

function buildPanel(id, p){
  const xVals = p.xTicks.map(parseFloat);
  const yVals = Y_TICKS.map(parseFloat);
  const xMin = xVals[0], xMax = xVals[xVals.length - 1];
  const pts = (arr, i) => arr.map(r => ({x:r[0], y:r[i]}));
  const datasets = [
    {label:'wavHi', data:pts(p.wav,1), borderColor:COL.red, backgroundColor:COL.red, borderWidth:1, fill:'+1', order:10},
    {label:'wavLo', data:pts(p.wav,2), borderColor:COL.red, borderWidth:1, fill:false, order:11},
    {label:'low', data:[{x:xMin,y:THRESH_LOW},{x:xMax,y:THRESH_LOW}], borderColor:COL.yellow, borderWidth:2, fill:false, order:8},
    {label:'high', data:[{x:xMin,y:THRESH_HIGH},{x:xMax,y:THRESH_HIGH}], borderColor:COL.green, borderWidth:4, fill:false, order:7}
  ];
  (p.cursors || []).forEach(t => datasets.push({label:'cursor', data:[{x:t,y:-0.2},{x:t,y:0.5}], borderColor:COL.yellow, borderWidth:1.5, fill:false, order:6}));
  datasets.push({label:'env', data:pts(p.env,1), borderColor:COL.white, borderWidth:2, fill:false, order:5});
  datasets.push({label:'bump', data:[{x:p.bump[0],y:p.bump[2]},{x:p.bump[1],y:p.bump[2]}], borderWidth:0, borderColor:COL.bump, backgroundColor:COL.bump, fill:{value:THRESH_HIGH}, order:1});

  new Chart(document.getElementById(id), {
    type:'line',
    data:{datasets},
    plugins:[panelPlugin],
    options:{
      responsive:false, animation:false, devicePixelRatio:1,
      events:[],
      layout:{padding:{left:0, top:p.pad.top, right:p.pad.right, bottom:0}},
      elements:{point:{radius:0}, line:{tension:0, borderJoinStyle:'round'}},
      plugins:{legend:{display:false}, tooltip:{enabled:false},
        panelPlugin:{box:p.box, boxTop:p.boxTop, boxBottom:p.boxBottom, marks:p.marks}},
      scales:{
        x:{type:'linear', min:xMin, max:xMax,
          afterBuildTicks:s => { s.ticks = makeTicks(xMin, xMax, p.minorStep, xVals.slice(1,-1)); },
          afterFit:s => { s.height = p.pad.bottom; s.paddingLeft = 0; s.paddingRight = 0; },
          ticks:{autoSkip:false, maxRotation:0, minRotation:0, padding:14, color:COL.text, font:TICK_FONT,
            callback:v => { const i = xVals.findIndex(m => Math.abs(m - v) < 1e-6); return i >= 0 ? p.xTicks[i] : ''; }},
          grid:{drawTicks:false, lineWidth:1, color:c => (c.tick && c.tick.major) ? COL.gridMajor : COL.gridMinor},
          border:{display:false}
        },
        y:{type:'linear', min:-0.2, max:0.5,
          afterBuildTicks:s => { s.ticks = makeTicks(-0.2, 0.5, 0.025, yVals.slice(1,-1)); },
          afterFit:s => { s.width = p.pad.left; s.paddingTop = 0; s.paddingBottom = 0; },
          ticks:{autoSkip:false, padding:17, color:COL.text, font:TICK_FONT,
            callback:v => { const i = yVals.findIndex(m => Math.abs(m - v) < 1e-6); return i >= 0 ? Y_TICKS[i] : ''; }},
          grid:{drawTicks:false, lineWidth:1, color:c => (c.tick && c.tick.major) ? COL.gridMajor : COL.gridMinor},
          border:{display:false}
        }
      }
    }
  });
}

buildPanel('ca', {xTicks:A_X_TICKS, minorStep:0.02, env:A_ENV, wav:A_WAV, box:A_BOX, bump:A_BUMP, marks:A_MARKS,
  pad:{left:87, top:26, right:23, bottom:52}, boxTop:20, boxBottom:420});
buildPanel('cb', {xTicks:B_X_TICKS, minorStep:0.05, env:B_ENV, wav:B_WAV, box:B_BOX, bump:B_BUMP, marks:B_MARKS, cursors:B_CURSORS,
  pad:{left:96, top:25, right:38, bottom:54}, boxTop:0, boxBottom:469});
buildPanel('cc', {xTicks:C_X_TICKS, minorStep:0.05, env:C_ENV, wav:C_WAV, box:C_BOX, bump:C_BUMP, marks:C_MARKS,
  pad:{left:87, top:16, right:23, bottom:55}, boxTop:-2, boxBottom:412});
</script>
</body></html>
